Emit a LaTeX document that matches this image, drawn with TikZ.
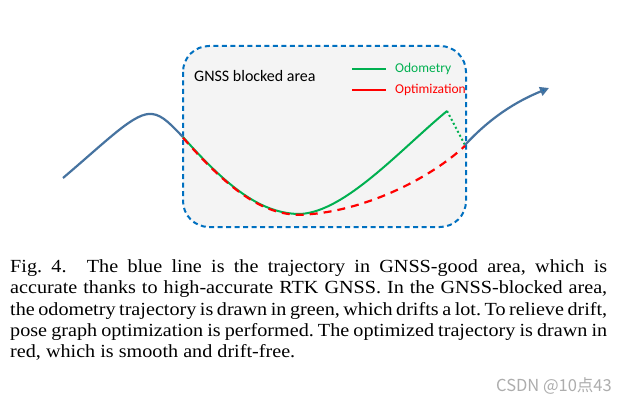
\documentclass[tikz,border=0pt]{standalone}
\usepackage{fontspec}
\setmainfont{Liberation Serif}
\newfontfamily\capfont[FakeStretch=1.09]{Liberation Serif}
\newfontfamily\calib{Carlito}
\newfontfamily\cjk{Noto Sans CJK SC}
\usetikzlibrary{arrows.meta}
\definecolor{boxblue}{RGB}{0,112,192}
\definecolor{trajblue}{RGB}{70,115,160}
\definecolor{odogreen}{RGB}{0,176,80}
\definecolor{optred}{RGB}{255,0,0}
\definecolor{boxfill}{RGB}{244,244,244}
\tikzset{
  areabox/.style={draw=boxblue, fill=boxfill, line width=2pt, dash pattern=on 5pt off 3.5pt, rounded corners=26pt},
  traj/.style={draw=trajblue, line width=2.2pt},
  odo/.style={draw=odogreen, line width=2pt},
  opt/.style={draw=optred, line width=2.2pt, dash pattern=on 8pt off 6pt},
  lbl/.style={font=\calib\fontsize{13.5}{16}\selectfont, inner sep=0pt, anchor=west},
}
\begin{document}
\begin{tikzpicture}[x=1pt,y=-1pt]
\useasboundingbox (0,0) rectangle (628,406);
\fill[white] (0,0) rectangle (628,406);
\draw[areabox] (183,46) rectangle (466,227);
\node[font=\calib\fontsize{16}{19}\selectfont, inner sep=0pt, anchor=west] (title) at (194,76) {GNSS blocked area};
\coordinate (s) at (63,178);
\coordinate (pk) at (152,114);
\coordinate (e1) at (183,137);
\coordinate (mn) at (300,214);
\coordinate (gp) at (447,111);
\coordinate (e2) at (465,145);
\coordinate (tip) at (549,88);
\draw[traj] (s) .. controls (110,138) and (135,112) .. (pk) .. controls (163,115) and (172,126) .. (e1);
\draw[odo] (e1) .. controls (228,188) and (262,214) .. (mn) .. controls (345,212) and (400,150) .. (gp);
\draw[opt, transform canvas={yshift=-0.8pt}] (e1) .. controls (228,188) and (262,214) .. (mn) .. controls (362,212) and (430,178) .. (e2);
\draw[odogreen, line width=2pt, dash pattern=on 2pt off 2.5pt] (gp) -- (e2);
\draw[traj, -{Triangle[length=9pt,width=9pt,fill=boxblue]}] (e2) .. controls (490,118) and (515,102) .. (tip);
\coordinate (l1a) at (352,69); \coordinate (l1b) at (386,69);
\coordinate (l2a) at (352,90); \coordinate (l2b) at (386,90);
\draw[odo] (l1a) -- (l1b);
\draw[optred, line width=2pt] (l2a) -- (l2b);
\node[lbl, text=odogreen] (lodo) at (395,69) {Odometry};
\node[lbl, text=optred] (lopt) at (395,90) {Optimization};
\node[anchor=north west, inner sep=0pt, text width=597pt, align=justify, font=\capfont\fontsize{18.5}{21.3}\selectfont\frenchspacing] (cap) at (10,259.5)
{Fig.~4.\hspace{1.1em}The blue line is the trajectory in GNSS-good area, which is\linebreak
accurate thanks to high-accurate RTK GNSS. In the GNSS-blocked area,\linebreak
the odometry trajectory is drawn in green, which drifts a lot. To relieve drift,\linebreak
pose graph optimization is performed. The optimized trajectory is drawn in\linebreak
red, which is smooth and drift-free.};
\node[anchor=east, inner sep=0pt, text=black!32, font=\cjk\fontsize{16.5}{18}\selectfont] (wm) at (612,386) {CSDN @10点43};
\end{tikzpicture}
\end{document}
